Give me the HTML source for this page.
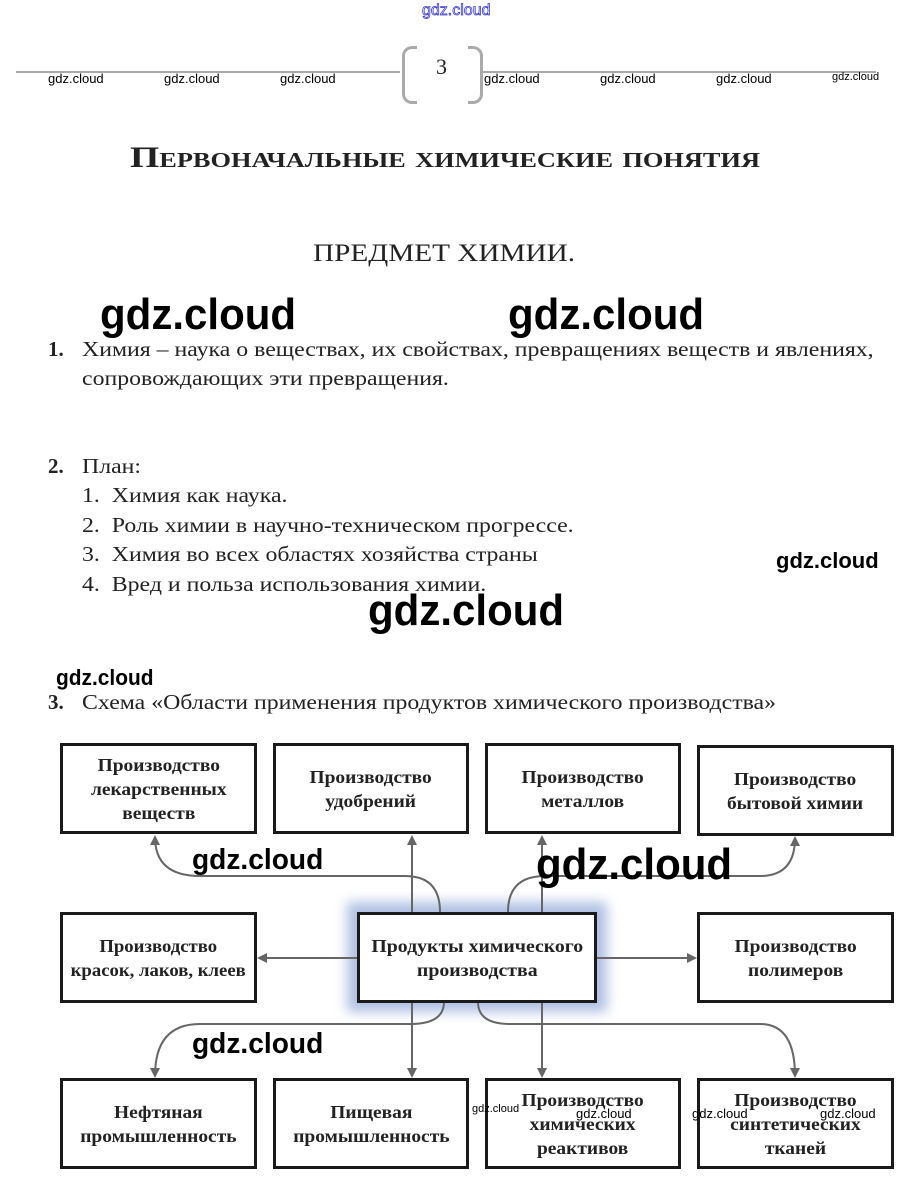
<!DOCTYPE html>
<html><head><meta charset="utf-8"><style>
body{margin:0;width:920px;height:1194px;background:#fff;position:relative;overflow:hidden;font-family:"Liberation Serif","DejaVu Serif",serif;color:#222}
.a{position:absolute;white-space:nowrap}
.s{transform-origin:0 0;transform:scaleX(1.134)}
.w{font-family:"Liberation Sans","DejaVu Sans",sans-serif;font-weight:bold;color:#000}
.sm{font-family:"Liberation Sans",sans-serif;font-size:13px;color:#000}
.box{position:absolute;border:3px solid #1a1a1a;box-sizing:border-box;display:flex;align-items:center;justify-content:center;text-align:center;font-weight:bold;font-size:18px;line-height:24px;background:#fff}
.box span{display:inline-block;transform:scaleX(1.08)}
.t{font-size:21px}
</style></head><body>
<div class="a" style="left:422px;top:2px;font-family:'Liberation Sans',sans-serif;font-size:16px;color:#fff;-webkit-text-stroke:0.8px #3a3ad0">gdz.cloud</div>
<div style="position:absolute;left:16px;top:71px;width:860px;height:2px;background:#aaa"></div>
<div style="position:absolute;left:400px;top:44px;width:82px;height:56px;background:#fff"></div>
<div style="position:absolute;left:402px;top:46px;width:12px;height:52px;border:3px solid #aaa;border-right:none;border-radius:10px 0 0 10px"></div>
<div style="position:absolute;left:468px;top:46px;width:12px;height:52px;border:3px solid #aaa;border-left:none;border-radius:0 10px 10px 0"></div>
<div class="a" style="left:436px;top:54px;font-size:22px">3</div>
<div class="a sm" style="left:48px;top:71px">gdz.cloud</div>
<div class="a sm" style="left:164px;top:71px">gdz.cloud</div>
<div class="a sm" style="left:280px;top:71px">gdz.cloud</div>
<div class="a sm" style="left:484px;top:71px">gdz.cloud</div>
<div class="a sm" style="left:600px;top:71px">gdz.cloud</div>
<div class="a sm" style="left:716px;top:71px">gdz.cloud</div>
<div class="a sm" style="left:832px;top:71px;font-size:11px">gdz.cloud</div>

<div class="a" style="left:130px;top:141px;font-size:30px;font-weight:bold;font-variant:small-caps;transform-origin:0 0;transform:scaleX(1.254)">Первоначальные химические понятия</div>
<div class="a" style="left:313px;top:240px;font-size:25px;transform-origin:0 0;transform:scaleX(1.17)">ПРЕДМЕТ ХИМИИ.</div>
<div class="a w" style="left:100px;top:290px;font-size:44px;transform-origin:0 0;transform:scaleX(0.955)">gdz.cloud</div>
<div class="a w" style="left:508px;top:290px;font-size:44px;transform-origin:0 0;transform:scaleX(0.955)">gdz.cloud</div>
<div class="a t" style="left:48px;top:337px"><b>1.</b></div>
<div class="a t s" style="left:82px;top:337px">Химия – наука о веществах, их свойствах, превращениях веществ и явлениях,</div>
<div class="a t s" style="left:82px;top:366px">сопровождающих эти превращения.</div>
<div class="a t" style="left:48px;top:454px"><b>2.</b></div>
<div class="a t s" style="left:82px;top:454px">План:</div>
<div class="a t s" style="left:82px;top:483px">1.&nbsp; Химия как наука.</div>
<div class="a t s" style="left:82px;top:513px">2.&nbsp; Роль химии в научно-техническом прогрессе.</div>
<div class="a t s" style="left:82px;top:542px">3.&nbsp; Химия во всех областях хозяйства страны</div>
<div class="a t s" style="left:82px;top:572px">4.&nbsp; Вред и польза использования химии.</div>
<div class="a w" style="left:776px;top:548px;font-size:22px">gdz.cloud</div>
<div class="a w" style="left:368px;top:586px;font-size:44px;transform-origin:0 0;transform:scaleX(0.955)">gdz.cloud</div>
<div class="a w" style="left:56px;top:665px;font-size:22px;transform-origin:0 0;transform:scaleX(0.95)">gdz.cloud</div>
<div class="a t" style="left:48px;top:690px"><b>3.</b></div>
<div class="a t s" style="left:82px;top:690px">Схема «Области применения продуктов химического производства»</div>

<svg style="position:absolute;left:0;top:0" width="920" height="1194">
<defs><marker id="m" markerWidth="10" markerHeight="10" refX="8" refY="5" orient="auto" markerUnits="userSpaceOnUse"><path d="M0,0 L10,5 L0,10 z" fill="#666"/></marker>
<filter id="g"><feGaussianBlur stdDeviation="6"/></filter></defs>
<rect x="347" y="902" width="260" height="110" fill="#8fa6d6" opacity="0.7" filter="url(#g)"/>
<g stroke="#666" stroke-width="2" fill="none" marker-end="url(#m)">
<path d="M440,912 Q440,876 405,876 L200,876 Q155,876 155,837"/>
<path d="M412,912 L412,837"/>
<path d="M542,912 L542,837"/>
<path d="M508,912 Q508,876 545,876 L760,876 Q795,876 795,838"/>
<path d="M357,958 L259,958"/>
<path d="M597,958 L695,958"/>
<path d="M444,1002 Q444,1024 410,1024 L200,1024 Q155,1024 155,1076"/>
<path d="M412,1002 L412,1076"/>
<path d="M542,1002 L542,1076"/>
<path d="M478,1002 Q478,1024 510,1024 L760,1024 Q795,1024 795,1076"/>
</g></svg>

<div class="box" style="left:60px;top:743px;width:197px;height:91px"><span>Производство<br>лекарственных<br>веществ</span></div>
<div class="box" style="left:273px;top:743px;width:196px;height:91px"><span>Производство<br>удобрений</span></div>
<div class="box" style="left:485px;top:743px;width:196px;height:91px"><span>Производство<br>металлов</span></div>
<div class="box" style="left:697px;top:745px;width:197px;height:91px"><span>Производство<br>бытовой химии</span></div>
<div class="box" style="left:60px;top:912px;width:197px;height:91px"><span style="transform:scaleX(1.04)">Производство<br>красок, лаков, клеев</span></div>
<div class="box" style="left:357px;top:912px;width:240px;height:91px"><span style="transform:scaleX(1.1)">Продукты химического<br>производства</span></div>
<div class="box" style="left:697px;top:912px;width:197px;height:91px"><span>Производство<br>полимеров</span></div>
<div class="box" style="left:60px;top:1078px;width:197px;height:91px"><span>Нефтяная<br>промышленность</span></div>
<div class="box" style="left:273px;top:1078px;width:196px;height:91px"><span>Пищевая<br>промышленность</span></div>
<div class="box" style="left:485px;top:1078px;width:196px;height:91px"><span>Производство<br>химических<br>реактивов</span></div>
<div class="box" style="left:697px;top:1078px;width:197px;height:91px"><span>Производство<br>синтетических<br>тканей</span></div>

<div class="a w" style="left:192px;top:844px;font-size:29px;transform-origin:0 0;transform:scaleX(0.97)">gdz.cloud</div>
<div class="a w" style="left:536px;top:840px;font-size:44px;transform-origin:0 0;transform:scaleX(0.955)">gdz.cloud</div>
<div class="a w" style="left:192px;top:1028px;font-size:29px;transform-origin:0 0;transform:scaleX(0.97)">gdz.cloud</div>
<div class="a sm" style="left:472px;top:1103px;font-size:11px">gdz.cloud</div>
<div class="a sm" style="left:576px;top:1106px">gdz.cloud</div>
<div class="a sm" style="left:692px;top:1106px">gdz.cloud</div>
<div class="a sm" style="left:820px;top:1106px">gdz.cloud</div>
</body></html>
